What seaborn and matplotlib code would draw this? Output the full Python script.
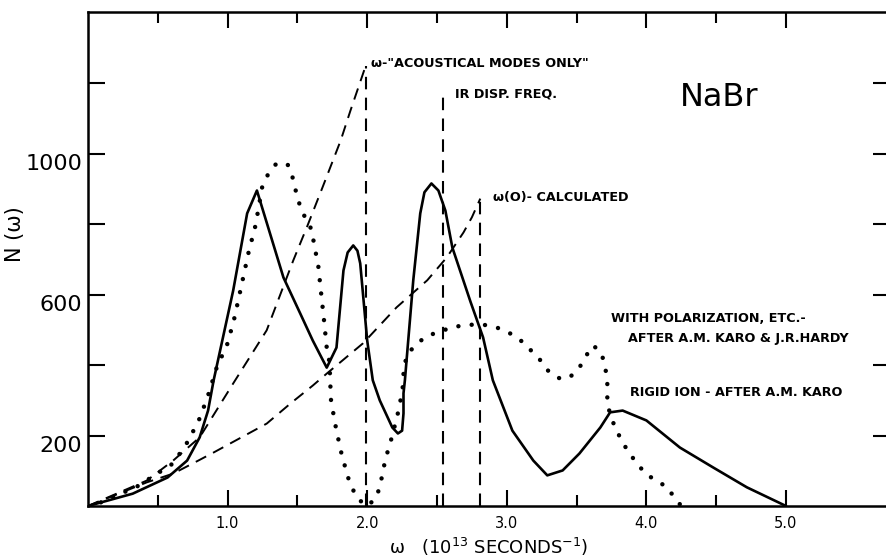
import numpy as np
import pandas as pd
import seaborn as sns
import matplotlib
matplotlib.use("Agg")
import matplotlib.pyplot as plt

# frequency distribution N(w) for NaBr
rigid_w = [0, 0.32, 0.57, 0.71, 0.80, 0.86, 0.90, 1.04, 1.14, 1.21, 1.40, 1.52, 1.61, 1.71,
           1.78, 1.83, 1.86, 1.90, 1.93, 1.95, 2.00, 2.04, 2.09, 2.18, 2.22, 2.25, 2.26, 2.26,
           2.27, 2.33, 2.38, 2.41, 2.46, 2.51, 2.56, 2.61, 2.74, 2.83, 2.90, 3.04, 3.19, 3.29,
           3.40, 3.52, 3.67, 3.74, 3.83, 4.00, 4.24, 4.48, 4.72, 5.00]
rigid_n = [0, 35, 81, 129, 195, 271, 357, 612, 831, 896, 649, 547, 470, 393,
           450, 669, 720, 740, 725, 689, 470, 357, 300, 223, 206, 214, 263, 320,
           357, 641, 831, 891, 916, 896, 839, 734, 580, 479, 357, 214, 129, 87,
           101, 149, 223, 266, 271, 243, 166, 109, 53, 0]

polar_w = [0, 0.09, 0.35, 0.61, 0.72, 0.80, 0.86, 0.92, 1.00, 1.05, 1.11, 1.15, 1.20, 1.25,
           1.29, 1.35, 1.43, 1.46, 1.50, 1.53, 1.60, 1.65, 1.67, 1.69, 1.71, 1.73, 1.74, 1.77,
           1.81, 1.86, 1.89, 1.93, 2.00, 2.06, 2.09, 2.13, 2.18, 2.23, 2.26, 2.26, 2.29, 2.36,
           2.43, 2.51, 2.60, 2.69, 2.79, 2.87, 2.95, 3.04, 3.12, 3.18, 3.25, 3.30, 3.38, 3.45,
           3.52, 3.57, 3.62, 3.68, 3.70, 3.72, 3.72, 3.75, 3.78, 3.83, 3.87, 3.93, 3.99, 4.06,
           4.15, 4.20, 4.25]
polar_n = [0, 10, 55, 121, 186, 249, 314, 391, 462, 536, 646, 720, 797, 911,
           942, 973, 970, 942, 876, 839, 786, 680, 604, 530, 450, 408, 303, 234,
           158, 84, 53, 21, 0, 21, 53, 132, 200, 280, 351, 391, 433, 462,
           484, 493, 507, 513, 516, 513, 504, 487, 464, 439, 410, 382, 362, 365,
           393, 428, 456, 433, 399, 365, 288, 251, 217, 183, 152, 124, 92, 75,
           53, 24, 0]

acoustic_w = [0, 0.42, 0.61, 0.80, 1.04, 1.28, 1.47, 1.57, 1.68, 1.81, 1.88, 1.99]
acoustic_n = [0, 72, 129, 195, 348, 499, 697, 794, 905, 1038, 1123, 1251]

calc_w = [0, 0.42, 0.61, 0.79, 0.90, 1.28, 1.45, 1.61, 1.71, 1.97, 2.21, 2.43, 2.57, 2.69, 2.75, 2.81]
calc_n = [0, 67, 92, 129, 152, 234, 291, 342, 376, 462, 564, 641, 706, 777, 820, 873]

# vertical cut-offs: acoustical limit, IR dispersion frequency, w(0) calculated
cut_w = [1.99, 2.54, 2.81]
cut_top = [1251, 1180, 873]

x_ticks = [1, 2, 3, 4, 5]
x_labels = ["1.0", "2.0", "3.0", "4.0", "5.0"]
y_ticks = [200, 400, 600, 800, 1000, 1200]
y_labels = ["200", "", "600", "", "1000", ""]

sns.set_theme(style="white")
plt.rcParams["font.family"] = ["DejaVu Sans"]
plt.rcParams["text.color"] = "black"
plt.rcParams["axes.labelcolor"] = "black"
plt.rcParams["xtick.color"] = "black"
plt.rcParams["ytick.color"] = "black"

fig = plt.figure(figsize=(8.87, 5.59), dpi=100)
ax = fig.add_axes([88 / 887, 53 / 559, 802 / 887, 494 / 559])

sns.lineplot(x=rigid_w, y=rigid_n, ax=ax, sort=False, estimator=None,
             color="black", lw=1.9)
sns.lineplot(x=polar_w, y=polar_n, ax=ax, sort=False, estimator=None,
             color="black", lw=3.2, linestyle=(0, (0.01, 3.0)),
             dash_capstyle="round")
dash = (0, (6, 4))
sns.lineplot(x=acoustic_w, y=acoustic_n, ax=ax, sort=False, estimator=None,
             color="black", lw=1.4, linestyle=dash)
sns.lineplot(x=calc_w, y=calc_n, ax=ax, sort=False, estimator=None,
             color="black", lw=1.4, linestyle=dash)
ax.vlines(cut_w, 0, cut_top, colors="black", lw=1.5, linestyles=[dash])

ax.set_xlim(0, 802 / 139.6)
ax.set_ylim(0, 1403)

ax.set_xticks(x_ticks)
ax.set_xticklabels(x_labels, fontsize=10.5)
ax.set_xticks(np.arange(0.5, 5.0, 1.0), minor=True)
ax.set_yticks(y_ticks)
ax.set_yticklabels(y_labels, fontsize=16)
plt.setp(ax.get_yticklabels(), va="top")

ax.tick_params(axis="x", which="both", direction="in", top=True, bottom=True,
               width=1.5, color="black", labelcolor="black", pad=7)
ax.tick_params(axis="x", which="major", length=11.5)
ax.tick_params(axis="x", which="minor", length=8)
ax.tick_params(axis="y", which="major", direction="in", left=True, right=True,
               length=12, width=1.5, color="black", labelcolor="black", pad=4)

for s in ax.spines.values():
    s.set_color("black")
    s.set_linewidth(1.8)
ax.spines["right"].set_visible(False)

ax.set_xlabel("ω   (10$^{13}$ SECONDS$^{-1}$)", fontsize=13, labelpad=4, color="black")
ax.set_ylabel("N (ω)", fontsize=15, color="black")
ax.yaxis.set_label_coords(-0.078, 0.55)

tx = dict(fontsize=9.2, fontweight="bold", va="center", ha="left", color="black")
ax.text(1.99 + 0.04, 1258, 'ω-"ACOUSTICAL MODES ONLY"', **tx)
ax.text(2.63, 1170, "IR DISP. FREQ.", **tx)
ax.text(2.90, 875, "ω(O)- CALCULATED", **tx)
ax.text(3.75, 532, "WITH POLARIZATION, ETC.-", **tx)
ax.text(3.87, 476, "AFTER A.M. KARO & J.R.HARDY", **tx)
ax.text(3.88, 322, "RIGID ION - AFTER A.M. KARO", **tx)
ax.text(4.24, 1160, "NaBr", fontsize=23, va="center", ha="left", color="black")

fig.savefig("out.png", dpi=100)
